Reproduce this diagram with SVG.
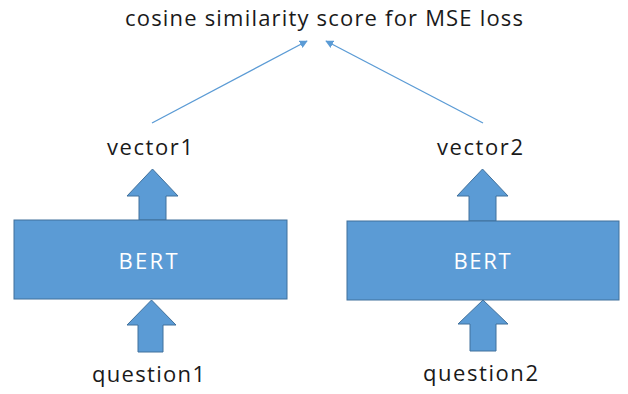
<svg xmlns="http://www.w3.org/2000/svg" width="628" height="394" viewBox="0 0 628 394">
<defs>
<style>
.box{fill:#5B9BD5;stroke:#41719C;stroke-width:1}
.blk{fill:#5B9BD5;stroke:#41719C;stroke-width:1}
.lbl{font-family:"Open Sans","Liberation Sans",Arial,sans-serif;font-size:22px;fill:#1a1a1a;text-anchor:middle}
.bert{font-family:"Open Sans","Liberation Sans",Arial,sans-serif;font-size:22px;fill:#ffffff;text-anchor:middle}
.conn{stroke:#5B9BD5;stroke-width:1.3;fill:none}
</style>
<marker id="ah" viewBox="0 0 10 10" refX="9" refY="5" markerWidth="8" markerHeight="8" markerUnits="userSpaceOnUse" orient="auto">
<path d="M0,0 L10,5 L0,10 z" fill="#5B9BD5"/>
</marker>
</defs>
<rect width="628" height="394" fill="#ffffff"/>
<g id="title"><text class="lbl" x="324" y="26" textLength="398" lengthAdjust="spacing">cosine similarity score for MSE loss</text></g>
<g id="connectors">
<line class="conn" x1="152" y1="123" x2="307" y2="41" marker-end="url(#ah)"/>
<line class="conn" x1="483" y1="123" x2="326" y2="41" marker-end="url(#ah)"/>
</g>
<g id="vector1"><text class="lbl" x="150" y="155" textLength="86" lengthAdjust="spacing">vector1</text></g>
<g id="vector2"><text class="lbl" x="480" y="155" textLength="86" lengthAdjust="spacing">vector2</text></g>
<g id="arrow-up-1"><path class="blk" d="M139,220 L139,196 L127,196 L152.5,169 L178,196 L166,196 L166,220 Z"/></g>
<g id="arrow-up-2"><path class="blk" d="M469,221 L469,196 L457,196 L482.5,169 L508,196 L496,196 L496,221 Z"/></g>
<g id="bert1"><rect class="box" x="14" y="220" width="273" height="79"/><text class="bert" x="148" y="269" textLength="59" lengthAdjust="spacing">BERT</text></g>
<g id="bert2"><rect class="box" x="347" y="221" width="272" height="79"/><text class="bert" x="482" y="269" textLength="57" lengthAdjust="spacing">BERT</text></g>
<g id="arrow-in-1"><path class="blk" d="M138,352 L138,325 L127,325 L151.5,300 L176,325 L163,325 L163,352 Z"/></g>
<g id="arrow-in-2"><path class="blk" d="M470,351 L470,324 L458,324 L483,300 L508,324 L496,324 L496,351 Z"/></g>
<g id="question1"><text class="lbl" x="148.5" y="382" textLength="113" lengthAdjust="spacing">question1</text></g>
<g id="question2"><text class="lbl" x="480.5" y="381" textLength="115" lengthAdjust="spacing">question2</text></g>
</svg>
